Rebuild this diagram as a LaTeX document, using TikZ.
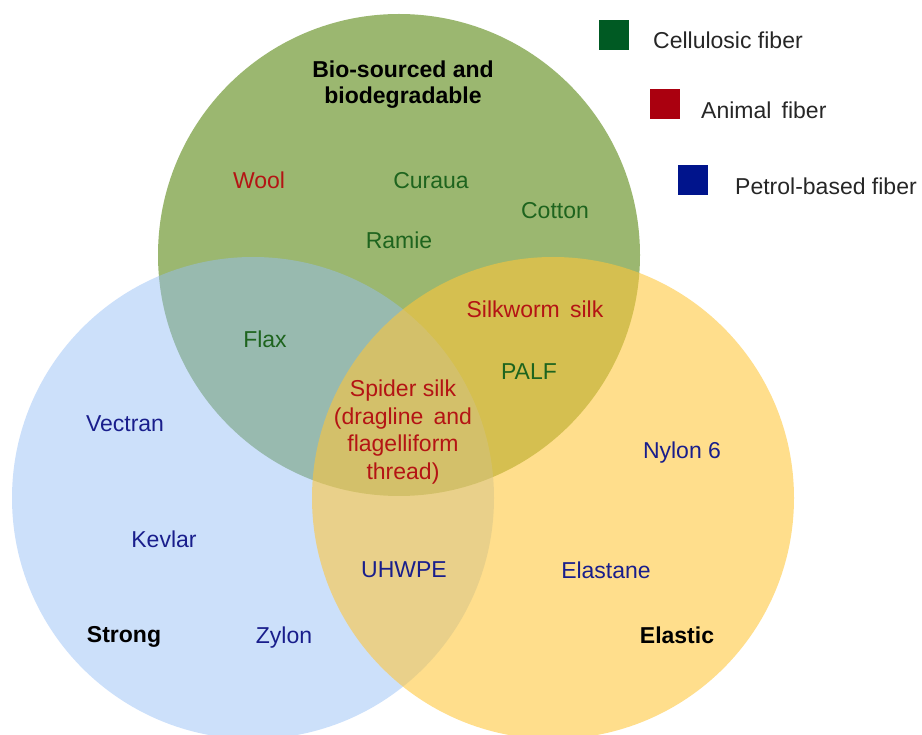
\documentclass[tikz,border=0pt]{standalone}
\usepackage{fontspec}
\setmainfont{Liberation Sans}
\usetikzlibrary{positioning}

\definecolor{bioGreen}{RGB}{155,183,112}
\definecolor{strongBlue}{RGB}{149,190,245}
\definecolor{elasticYellow}{RGB}{255,198,57}
\definecolor{celluText}{RGB}{30,100,30}
\definecolor{animalText}{RGB}{180,20,20}
\definecolor{petrolText}{RGB}{25,30,140}
\definecolor{celluKey}{RGB}{0,90,35}
\definecolor{animalKey}{RGB}{170,0,15}
\definecolor{petrolKey}{RGB}{0,20,140}

\begin{document}
\begin{tikzpicture}[x=1pt,y=-1pt,
    every node/.style={font=\fontsize{23}{27.5}\selectfont,align=center,inner sep=0pt},
    cellulosic/.style={text=celluText},
    animal/.style={text=animalText},
    petrol/.style={text=petrolText},
    heading/.style={font=\fontsize{23}{26}\selectfont\bfseries,text=black},
    keybox/.style={minimum width=30pt,minimum height=30pt},
    keytext/.style={anchor=west,text=black!85}]
    \useasboundingbox (0,0) rectangle (922,735);

    % the three sets
    \fill[bioGreen] (399,255) circle[radius=241pt];
    \fill[strongBlue,fill opacity=0.48] (253,498) circle[radius=241pt];
    \fill[elasticYellow,fill opacity=0.58] (553,498) circle[radius=241pt];

    \node (bio)[heading] at (403,85) {Bio-sourced and\\biodegradable};
    \node (strong)[heading] at (124,637) {Strong};
    \node (elastic)[heading] at (677,635) {Elastic};

    \node (wool)[animal] at (259,180) {Wool};
    \node (curaua)[cellulosic] at (431,181) {Curaua};
    \node (cotton)[cellulosic] at (555,211) {Cotton};
    \node (ramie)[cellulosic] at (399,240) {Ramie};
    \node (flax)[cellulosic] at (265,339) {Flax};
    \node (silkworm)[animal] at (535,309) {Silkworm\ \,silk};
    \node (palf)[cellulosic] at (529,372) {PALF};
    \node (spider)[animal] at (403,432) {Spider silk\\(dragline\ \,and\\flagelliform\\thread)};
    \node (vectran)[petrol] at (125,424) {Vectran};
    \node (nylon)[petrol] at (682,453) {Nylon 6};
    \node (kevlar)[petrol] at (164,539) {Kevlar};
    \node (uhwpe)[petrol] at (404,570) {UHWPE};
    \node (elastane)[petrol] at (606,570) {Elastane};
    \node (zylon)[petrol] at (284,638) {Zylon};

    % legend
    \node (celluBox)[keybox,fill=celluKey] at (614,35) {};
    \node (animalBox)[keybox,fill=animalKey] at (664.5,104) {};
    \node (petrolBox)[keybox,fill=petrolKey] at (692.5,180) {};
    \node (celluLabel)[keytext] at (653,40) {Cellulosic fiber};
    \node (animalLabel)[keytext] at (701,110) {Animal\ \,fiber};
    \node (petrolLabel)[keytext] at (735,186) {Petrol-based fiber};
\end{tikzpicture}
\end{document}
